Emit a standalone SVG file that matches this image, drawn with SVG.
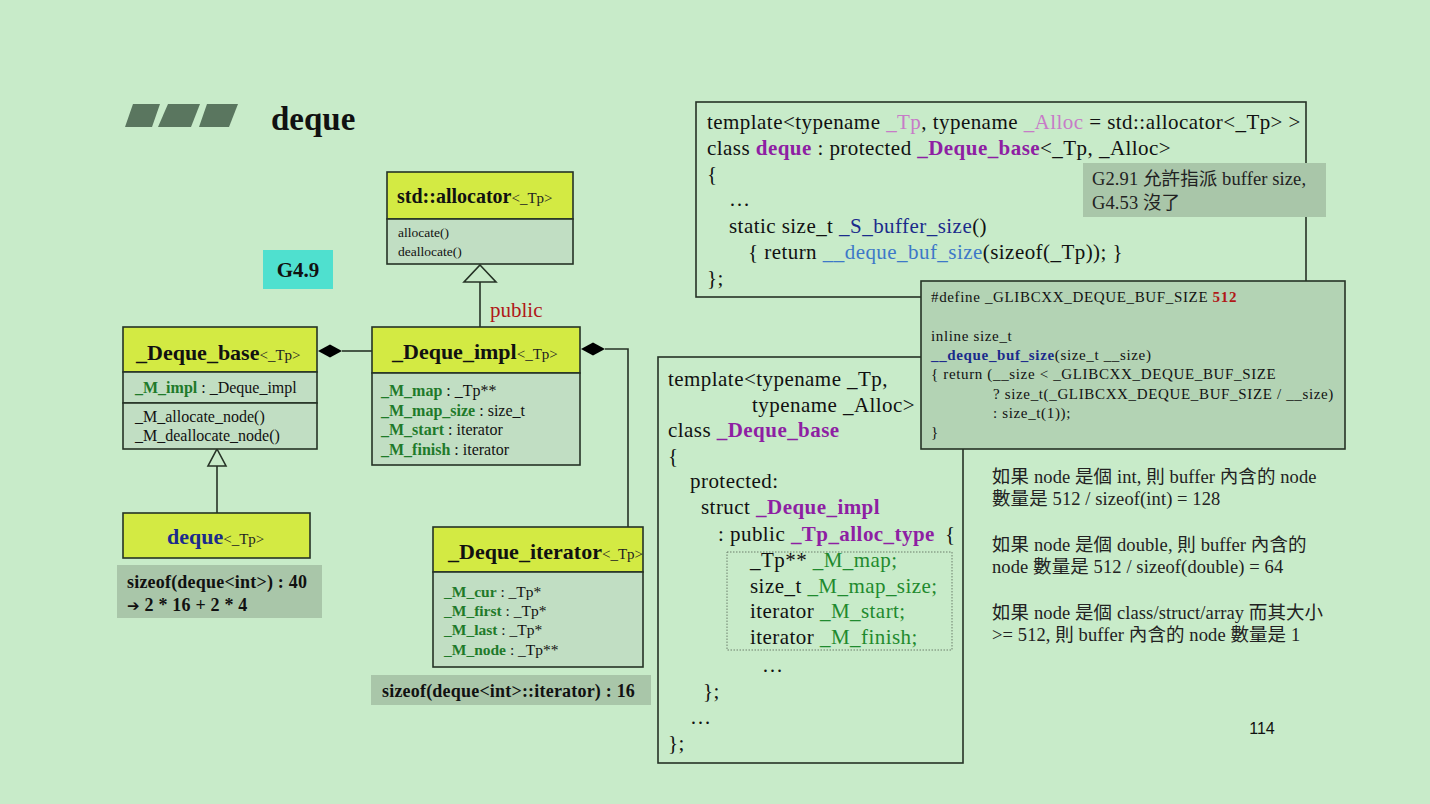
<svg xmlns="http://www.w3.org/2000/svg" width="1430" height="804" viewBox="0 0 1430 804">
  <style>
    .serif { font-family: "Liberation Serif", "Noto Sans CJK TC", serif; fill: #111; }
    .cjk { font-family: "Liberation Serif", "Noto Sans CJK TC", serif; fill: #222; font-size: 18.5px; letter-spacing: 0.1px; }
    .src { font-size: 21px; letter-spacing: 0.45px; }
    .def { font-size: 15px; letter-spacing: 0.65px; }
    .box { stroke: #263326; stroke-width: 1.6; }
    .hdr { fill: #d3ea43; }
    .body { fill: #c1dec3; }
    .note { fill: #a9c6a9; }
    .code { fill: #c8ebc9; stroke: #263326; stroke-width: 1.6; }
    .title { font-size: 22px; font-weight: bold; }
    .tp { font-size: 15px; font-weight: normal; fill: #222; }
    .attr { font-size: 16px; }
    .mem { font-weight: bold; fill: #1f7a2a; }
    .purple { fill: #8e1fa3; font-weight: bold; }
    .pink { fill: #c77bc7; }
    .blue { fill: #1b2b8c; }
    .lblue { fill: #3d78c8; }
    .green { fill: #1f8a2e; }
    .line { stroke: #263326; stroke-width: 1.6; fill: none; }
    .size { font-size: 18px; font-weight: bold; letter-spacing: 0.2px; }
  </style>

  <rect width="1430" height="804" fill="#c8ebc9"/>

  <!-- heading -->
  <g id="heading">
    <polygon points="133,104 160,104 152,127 125,127" fill="#5a765f"/>
    <polygon points="168,104 200,104 191,127 158,127" fill="#5a765f"/>
    <polygon points="207,104 238,104 229,127 199,127" fill="#5a765f"/>
    <text x="271" y="130" class="serif" font-size="33" font-weight="bold">deque</text>
  </g>

  <!-- connectors -->
  <g id="connectors">
    <line class="line" x1="480" y1="282" x2="480" y2="327"/>
    <polygon points="480,265 496,282 464,282" fill="#c8ebc9" stroke="#263326" stroke-width="1.6"/>
    <line class="line" x1="217" y1="466" x2="217" y2="513"/>
    <polygon points="217,449 226,466 208,466" fill="#c8ebc9" stroke="#263326" stroke-width="1.6"/>
    <line class="line" x1="342" y1="351" x2="372" y2="351"/>
    <polygon points="318,351 330,344.5 342,351 330,357.5" fill="#000"/>
    <polyline class="line" points="605,349 628,349 628,528"/>
    <polygon points="581,349 593,342.5 605,349 593,355.5" fill="#000"/>
    <text x="490" y="317" class="serif" font-size="21" style="fill:#b01818">public</text>
  </g>

  <!-- G4.9 tag -->
  <g id="g49">
    <rect x="263" y="250" width="70" height="39" fill="#4fe0cf"/>
    <text x="298" y="277" class="serif" font-size="21" font-weight="bold" text-anchor="middle">G4.9</text>
  </g>

  <!-- std::allocator -->
  <g id="allocator">
    <rect class="box hdr" x="387" y="172" width="186" height="47"/>
    <rect class="box body" x="387" y="219" width="186" height="45"/>
    <text x="397" y="203" class="serif" font-size="20" font-weight="bold">std::allocator<tspan class="tp">&lt;_Tp&gt;</tspan></text>
    <text x="398" y="237" class="serif" font-size="13.5">allocate()</text>
    <text x="398" y="256" class="serif" font-size="13.5">deallocate()</text>
  </g>

  <!-- _Deque_base -->
  <g id="deque_base">
    <rect class="box hdr" x="123" y="327" width="194" height="45"/>
    <rect class="box body" x="123" y="372" width="194" height="31"/>
    <rect class="box body" x="123" y="403" width="194" height="46"/>
    <text x="136" y="360" class="serif title">_Deque_base<tspan class="tp">&lt;_Tp&gt;</tspan></text>
    <text x="135" y="393" class="serif attr"><tspan class="mem">_M_impl</tspan> : _Deque_impl</text>
    <text x="135" y="422" class="serif attr">_M_allocate_node()</text>
    <text x="135" y="441" class="serif attr">_M_deallocate_node()</text>
  </g>

  <!-- _Deque_impl -->
  <g id="deque_impl">
    <rect class="box hdr" x="372" y="327" width="208" height="46"/>
    <rect class="box body" x="372" y="373" width="208" height="92"/>
    <text x="392" y="359" class="serif title">_Deque_impl<tspan class="tp">&lt;_Tp&gt;</tspan></text>
    <text x="381" y="396" class="serif attr"><tspan class="mem">_M_map</tspan> : _Tp**</text>
    <text x="381" y="416" class="serif attr"><tspan class="mem">_M_map_size</tspan> : size_t</text>
    <text x="381" y="435" class="serif attr"><tspan class="mem">_M_start</tspan> : iterator</text>
    <text x="381" y="455" class="serif attr"><tspan class="mem">_M_finish</tspan> : iterator</text>
  </g>

  <!-- deque -->
  <g id="deque">
    <rect class="box hdr" x="123" y="513" width="187" height="45"/>
    <text x="167" y="544" class="serif title"><tspan class="blue">deque</tspan><tspan class="tp">&lt;_Tp&gt;</tspan></text>
  </g>
  <g id="deque_size">
    <rect class="note" x="117" y="565" width="205" height="53"/>
    <text x="127" y="588" class="serif size">sizeof(deque&lt;int&gt;) : 40</text>
    <text x="127" y="611" class="serif size"><tspan font-family="DejaVu Sans" font-size="15">➔</tspan> 2 * 16 + 2 * 4</text>
  </g>

  <!-- _Deque_iterator -->
  <g id="deque_iterator">
    <rect class="box hdr" x="433" y="527" width="210" height="45"/>
    <rect class="box body" x="433" y="572" width="210" height="95"/>
    <text x="448" y="559" class="serif title">_Deque_iterator<tspan class="tp">&lt;_Tp&gt;</tspan></text>
    <text x="444" y="597" class="serif" font-size="15.5"><tspan class="mem">_M_cur</tspan> : _Tp*</text>
    <text x="444" y="616" class="serif" font-size="15.5"><tspan class="mem">_M_first</tspan> : _Tp*</text>
    <text x="444" y="635" class="serif" font-size="15.5"><tspan class="mem">_M_last</tspan> : _Tp*</text>
    <text x="444" y="655" class="serif" font-size="15.5"><tspan class="mem">_M_node</tspan> : _Tp**</text>
  </g>
  <g id="iterator_size">
    <rect class="note" x="371" y="675" width="280" height="30"/>
    <text x="382" y="697" class="serif size">sizeof(deque&lt;int&gt;::iterator) : 16</text>
  </g>

  <!-- class deque source -->
  <g id="deque_code">
    <rect class="code" x="696" y="102" width="610" height="195"/>
    <text x="707" y="129" class="serif src">template&lt;typename <tspan class="pink">_Tp</tspan>, typename <tspan class="pink">_Alloc</tspan> = std::allocator&lt;_Tp&gt; &gt;</text>
    <text x="707" y="155" class="serif src">class <tspan class="purple">deque</tspan> : protected <tspan class="purple">_Deque_base</tspan>&lt;_Tp, _Alloc&gt;</text>
    <text x="707" y="181" class="serif src">{</text>
    <text x="729" y="206" class="serif src">…</text>
    <text x="729" y="233" class="serif src">static size_t <tspan class="blue">_S_buffer_size</tspan>()</text>
    <text x="748" y="259" class="serif src">{ return <tspan class="lblue">__deque_buf_size</tspan>(sizeof(_Tp)); }</text>
    <text x="707" y="285" class="serif src">};</text>
  </g>
  <g id="g291_note">
    <rect class="note" x="1083" y="163" width="243" height="54"/>
    <text x="1092" y="185" class="cjk">G2.91 允許指派 buffer size,</text>
    <text x="1092" y="209" class="cjk">G4.53 沒了</text>
  </g>

  <!-- class _Deque_base source -->
  <g id="deque_base_code">
    <rect class="code" x="658" y="357" width="305" height="406"/>
    <text x="668" y="386" class="serif src">template&lt;typename _Tp,</text>
    <text x="752" y="412" class="serif src">typename _Alloc&gt;</text>
    <text x="668" y="437" class="serif src">class <tspan class="purple">_Deque_base</tspan></text>
    <text x="668" y="463" class="serif src">{</text>
    <text x="690" y="488" class="serif src">protected:</text>
    <text x="701" y="514" class="serif src">struct <tspan class="purple">_Deque_impl</tspan></text>
    <text x="718" y="541" class="serif src">: public <tspan class="purple">_Tp_alloc_type</tspan></text>
    <text x="945" y="541" class="serif src">{</text>
    <rect x="727" y="552" width="225" height="98" fill="none" stroke="#6d7f6d" stroke-width="1" stroke-dasharray="1.5,1.5"/>
    <text x="750" y="567" class="serif src">_Tp** <tspan class="green">_M_map;</tspan></text>
    <text x="750" y="593" class="serif src">size_t <tspan class="green">_M_map_size;</tspan></text>
    <text x="750" y="618" class="serif src">iterator <tspan class="green">_M_start;</tspan></text>
    <text x="750" y="644" class="serif src">iterator <tspan class="green">_M_finish;</tspan></text>
    <text x="762" y="672" class="serif src">…</text>
    <text x="703" y="698" class="serif src">};</text>
    <text x="690" y="724" class="serif src">…</text>
    <text x="668" y="750" class="serif src">};</text>
  </g>

  <!-- buffer size helper -->
  <g id="buf_size_code">
    <rect x="921" y="281" width="424" height="168" fill="#b3d3b4" stroke="#263326" stroke-width="1.6"/>
    <text x="931" y="302" class="serif def">#define _GLIBCXX_DEQUE_BUF_SIZE  <tspan font-weight="bold" fill="#b01818">512</tspan></text>
    <text x="931" y="341" class="serif def">inline size_t</text>
    <text x="931" y="360" class="serif def"><tspan class="blue" font-weight="bold">__deque_buf_size</tspan>(size_t __size)</text>
    <text x="931" y="379" class="serif def">{ return (__size &lt; _GLIBCXX_DEQUE_BUF_SIZE</text>
    <text x="993" y="399" class="serif def">? size_t(_GLIBCXX_DEQUE_BUF_SIZE / __size)</text>
    <text x="993" y="418" class="serif def">: size_t(1));</text>
    <text x="931" y="437" class="serif def">}</text>
  </g>

  <!-- notes on buffer node counts -->
  <g id="buffer_notes">
    <text x="992" y="483" class="cjk">如果 node 是個 int, 則 buffer 內含的 node</text>
    <text x="992" y="505" class="cjk">數量是 512 / sizeof(int) = 128</text>
    <text x="992" y="551" class="cjk">如果 node 是個 double, 則 buffer 內含的</text>
    <text x="992" y="573" class="cjk">node 數量是 512 / sizeof(double) = 64</text>
    <text x="992" y="619" class="cjk">如果 node 是個 class/struct/array 而其大小</text>
    <text x="992" y="641" class="cjk">&gt;= 512, 則 buffer 內含的 node 數量是 1</text>
  </g>

  <text x="1262" y="734" font-family="Liberation Sans, sans-serif" font-size="16" fill="#111" text-anchor="middle">114</text>
</svg>
